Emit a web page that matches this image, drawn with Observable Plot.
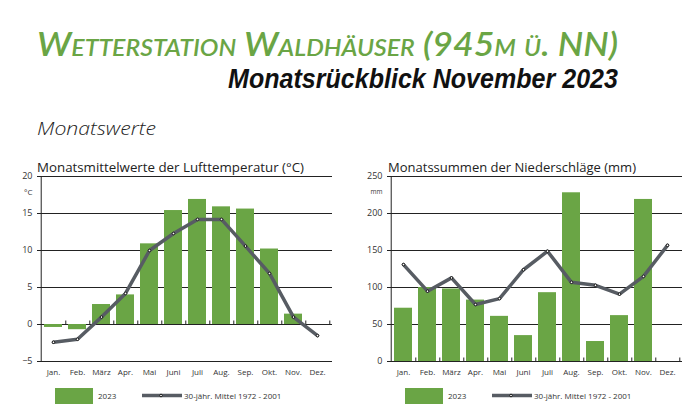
<!DOCTYPE html>
<html><head><meta charset="utf-8">
<script src="https://cdn.jsdelivr.net/npm/d3@7"></script>
<script src="https://cdn.jsdelivr.net/npm/@observablehq/plot@0.6"></script>
<style>
html,body{margin:0;padding:0;background:#fff}
body{width:698px;height:418px;position:relative;overflow:hidden;font-family:"Open Sans",sans-serif}
.abs{position:absolute}
</style></head><body>
<svg class="abs" style="left:0;top:0" width="698" height="176">
  <text x="37" y="55.5" textLength="581" lengthAdjust="spacingAndGlyphs" font-family="Lato" font-style="italic" font-weight="600" font-size="33" style="font-variant:small-caps" fill="#6aa545">Wetterstation Waldhäuser (945m ü. NN)</text>
  <text x="228" y="88" textLength="390" lengthAdjust="spacingAndGlyphs" font-family="Liberation Sans" font-style="italic" font-weight="700" font-size="28" fill="#111">Monatsrückblick November 2023</text>
  <text x="37" y="135" textLength="119" lengthAdjust="spacingAndGlyphs" font-family="Open Sans" font-style="italic" font-weight="300" font-size="19" fill="#222">Monatswerte</text>
  <text x="37" y="172" textLength="267" lengthAdjust="spacingAndGlyphs" font-family="Open Sans" font-size="13" fill="#222">Monatsmittelwerte der Lufttemperatur (°C)</text>
  <text x="388" y="172" textLength="248" lengthAdjust="spacingAndGlyphs" font-family="Open Sans" font-size="13" fill="#222">Monatssummen der Niederschläge (mm)</text>
</svg>
<div id="c1" class="abs" style="left:0;top:170px"></div>
<div id="c2" class="abs" style="left:350px;top:170px"></div>
<svg class="abs" style="left:0;top:380px" width="698" height="38" id="legend"></svg>
<script>
const months = ["Jan.","Feb.","März","Apr.","Mai","Juni","Juli","Aug.","Sep.","Okt.","Nov.","Dez."];
const temp2023 = [-0.4,-0.7,2.7,4.0,10.9,15.4,16.9,15.9,15.6,10.2,1.4,null];
const tempMean = [-2.4,-2.0,1.0,4.2,10.0,12.3,14.2,14.2,10.6,6.9,1.0,-1.5];
const prec2023 = [72,100,98,83,61,35,93,228,27,62,219,null];
const precMean = [131,95,113,77,85,124,149,107,103,91,115,157];
const tempTicks = [-5,0,5,10,15,20];
const precTicks = [0,50,100,150,200,250];
const legendLabels = ["2023","30-jähr. Mittel 1972 - 2001"];

const GREEN = "#6aa545", LINE = "#575c63";

function chart(vals, means, ticks, unit) {
  const W = 345, H = 210, mL = 37, mR = 13, mT = 6, mB = 19;
  const step = (W - mL - mR) / 12;
  const bars = months.map((m, i) => ({m, v: vals[i]})).filter(d => d.v != null);
  const line = months.map((m, i) => ({m, v: means[i]}));
  const dom = [ticks[0], ticks[ticks.length - 1]];
  return Plot.plot({
    width: W, height: H, marginLeft: mL, marginRight: mR, marginTop: mT, marginBottom: mB,
    style: {fontFamily: "'Liberation Sans Narrow','Open Sans',sans-serif", fontSize: "8px", color: "#333", background: "transparent"},
    x: {type: "band", domain: months, paddingInner: 0.26, paddingOuter: 0.13, label: null, tickSize: 0, tickPadding: 8},
    y: {domain: dom, ticks, tickSize: 0, tickPadding: 5, label: null},
    marks: [
      Plot.axisY({ticks, tickSize: 0, tickPadding: 5, fontSize: 9, label: null, fontFamily: "'Open Sans',sans-serif"}),
      Plot.axisX({tickSize: 0, tickPadding: 8, label: null}),
      Plot.ruleY(ticks, {stroke: "#222", strokeWidth: 1}),
      Plot.ruleX([months[0]], {x: d => d, dx: -step / 2, y1: dom[0], y2: dom[1], stroke: "#222", strokeWidth: 1}),
      Plot.barY(bars, {x: "m", y: "v", fill: GREEN}),
      Plot.ruleX(months, {x: d => d, dx: step / 2, y1: 0, y2: 0, insetTop: -3.5, stroke: "#222", strokeWidth: 1}),
      Plot.line(line, {x: "m", y: "v", stroke: LINE, strokeWidth: 3.5, strokeLinejoin: "round"}),
      Plot.dot(line, {x: "m", y: "v", r: 1.3, fill: "#fff", stroke: "#111", strokeWidth: 1}),
      Plot.text([unit], {frameAnchor: "top-left", dx: -5, dy: 13, textAnchor: "end", fontSize: unit === "mm" ? 6.5 : 8, fill: "#333", fontFamily: "'Open Sans',sans-serif"})
    ]
  });
}
document.getElementById("c1").append(chart(temp2023, tempMean, tempTicks, "°C"));
document.getElementById("c2").append(chart(prec2023, precMean, precTicks, "mm"));

const lg = d3.select("#legend");
[0, 350].forEach(ox => {
  lg.append("rect").attr("x", 55 + ox).attr("y", 8).attr("width", 38).attr("height", 16).attr("fill", GREEN);
  lg.append("text").attr("x", 98 + ox).attr("y", 19).attr("font-size", 8).attr("fill", "#333")
    .attr("font-family", "'Liberation Sans Narrow','Open Sans',sans-serif").text(legendLabels[0]);
  lg.append("line").attr("x1", 142 + ox).attr("x2", 182 + ox).attr("y1", 15.5).attr("y2", 15.5)
    .attr("stroke", LINE).attr("stroke-width", 3.5);
  lg.append("circle").attr("cx", 161 + ox).attr("cy", 15.5).attr("r", 1.3).attr("fill", "#fff").attr("stroke", "#111");
  lg.append("text").attr("x", 184 + ox).attr("y", 19).attr("font-size", 8).attr("fill", "#333")
    .attr("font-family", "'Liberation Sans Narrow','Open Sans',sans-serif").text(legendLabels[1]);
});
</script>
</body></html>
